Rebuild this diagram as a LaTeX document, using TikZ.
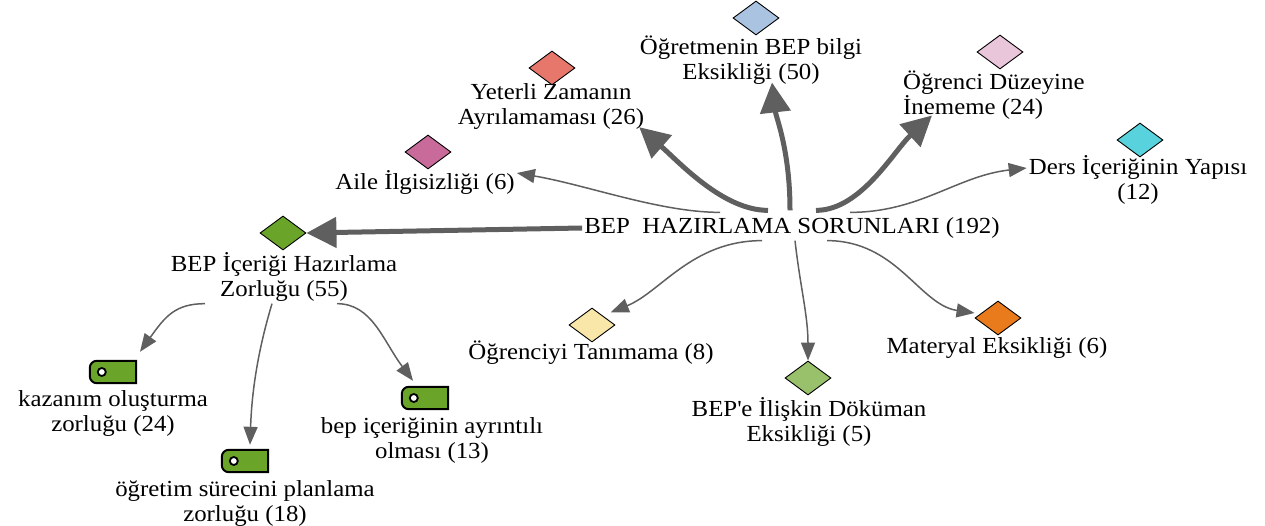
\documentclass[tikz,border=0pt]{standalone}
\usepackage{fontspec}
\setmainfont{Liberation Serif}[FakeStretch=1.08]
\usetikzlibrary{shapes.geometric,arrows.meta}
\definecolor{linkgray}{HTML}{5F5F5F}
\definecolor{cTeacher}{HTML}{A9C3E0}
\definecolor{cLevel}{HTML}{EAC6DA}
\definecolor{cTime}{HTML}{E8776B}
\definecolor{cFamily}{HTML}{C86A9A}
\definecolor{cContent}{HTML}{58D2DC}
\definecolor{cPrep}{HTML}{6AA52A}
\definecolor{cKnow}{HTML}{F9E6A9}
\definecolor{cDoc}{HTML}{99C06A}
\definecolor{cMat}{HTML}{E97B1C}
\begin{document}
\begin{tikzpicture}[x=1pt,y=1pt,
  every node/.style={font=\fontsize{23}{25}\selectfont},
  dmd/.style={diamond,draw,line width=.9pt,minimum width=46pt,
    minimum height=34pt,inner sep=0pt},
  lbl/.style={align=center,inner sep=2pt},
  tagbox/.style={minimum width=46pt,minimum height=22pt,inner sep=0pt},
  link/.style={draw=linkgray,line width=1.5pt,
    -{Triangle[length=18pt,width=14pt]}},
  heavy/.style={draw=linkgray,line width=5pt,
    -{Triangle[length=30pt,width=30pt]}}]
\useasboundingbox (0,0) rectangle (1265,-526);
% centre
\node[inner sep=2pt] (ctr) at (792,-228) {BEP\ \ HAZIRLAMA SORUNLARI (192)};
% diamonds and their labels
\node[dmd,fill=cTeacher] (dTeacher) at (756,-18) {};
\node[lbl] (lblTeacher) at (751,-60) {Öğretmenin BEP bilgi\\Eksikliği (50)};
\node[dmd,fill=cLevel] (dLevel) at (1000,-52) {};
\node[lbl,align=left,anchor=west] (lblLevel) at (901,-95)
  {Öğrenci Düzeyine\\İnememe (24)};
\node[dmd,fill=cTime] (dTime) at (552,-68) {};
\node[lbl] (lblTime) at (551,-107) {Yeterli Zamanın\\Ayrılamaması (26)};
\node[dmd,fill=cFamily] (dFamily) at (428,-152) {};
\node[lbl] (lblFamily) at (425,-182) {Aile İlgisizliği (6)};
\node[dmd,fill=cContent] (dContent) at (1140,-140) {};
\node[lbl] (lblContent) at (1138,-180) {Ders İçeriğinin Yapısı\\(12)};
\node[dmd,fill=cPrep] (dPrep) at (283,-233) {};
\node[lbl] (lblPrep) at (284,-277) {BEP İçeriği Hazırlama\\Zorluğu (55)};
\node[dmd,fill=cKnow] (dKnow) at (592,-325) {};
\node[lbl] (lblKnow) at (591,-353) {Öğrenciyi Tanımama (8)};
\node[dmd,fill=cDoc] (dDoc) at (808,-378) {};
\node[lbl] (lblDoc) at (809,-422)
  {BEP\textquotesingle e İlişkin Döküman\\Eksikliği (5)};
\node[dmd,fill=cMat] (dMat) at (998,-318) {};
\node[lbl] (lblMat) at (997,-348) {Materyal Eksikliği (6)};
% tags
\node[tagbox] (tagA) at (113,-372) {};
\node[lbl] (lblA) at (113,-414) {kazanım oluşturma\\zorluğu (24)};
\node[tagbox] (tagB) at (245,-461) {};
\node[lbl] (lblB) at (245,-503) {öğretim sürecini planlama\\zorluğu (18)};
\node[tagbox] (tagC) at (425,-398) {};
\node[lbl] (lblC) at (432,-440) {bep içeriğinin ayrıntılı\\olması (13)};
\foreach \t in {tagA,tagB,tagC} {
  \draw[fill=cPrep,line width=2pt] (\t.north east) -- (\t.south east)
    -- ([xshift=7pt]\t.south west) arc(-90:-180:7pt)
    -- ([yshift=-7pt]\t.north west) arc(180:90:7pt) -- cycle;
  \draw[fill=white,line width=1.8pt] ([xshift=12pt]\t.west) circle (4pt);
}
% links
\draw[heavy] (ctr.west) -- (dPrep.east);
\draw[heavy] ([xshift=-2pt,yshift=5pt]ctr.north) .. controls +(0,60) and +(4,-35) ..
  ([xshift=21pt,yshift=4pt]lblTeacher.south);
\draw[heavy] ([xshift=-24pt,yshift=5pt]ctr.north) .. controls +(-45,0) and +(40,-35) ..
  ([xshift=-7pt,yshift=5pt]lblTime.south east);
\draw[heavy] ([xshift=24pt,yshift=5pt]ctr.north) .. controls +(45,0) and +(-38,-35) ..
  ([xshift=31pt,yshift=6pt]lblLevel.south west);
\draw[link] ([xshift=-72pt,yshift=3pt]ctr.north) .. controls +(-60,0) and +(70,-12) ..
  ([yshift=9pt]lblFamily.east);
\draw[link] ([xshift=58pt,yshift=3pt]ctr.north) .. controls +(70,0) and +(-70,-8) ..
  ([yshift=12pt]lblContent.west);
\draw[link] ([xshift=-30pt]ctr.south) .. controls +(-70,0) and +(50,20) ..
  ([xshift=7pt,yshift=4pt]dKnow.north east);
\draw[link] ([xshift=3pt]ctr.south) .. controls +(5,-45) and +(0,45) ..
  (dDoc.north);
\draw[link] ([xshift=35pt]ctr.south) .. controls +(70,0) and +(-55,8) ..
  ([yshift=5pt]dMat.west);
\draw[link] ([xshift=-79pt]lblPrep.south) .. controls +(-30,0) and +(25,35) ..
  ([xshift=27pt,yshift=9pt]tagA.north);
\draw[link] ([xshift=-12pt]lblPrep.south) .. controls +(-12,-40) and +(2,60) ..
  ([xshift=5pt,yshift=5pt]tagB.north);
\draw[link] ([xshift=53pt]lblPrep.south) .. controls +(35,0) and +(-30,40) ..
  ([xshift=-12pt,yshift=6pt]tagC.north);
\end{tikzpicture}
\end{document}
